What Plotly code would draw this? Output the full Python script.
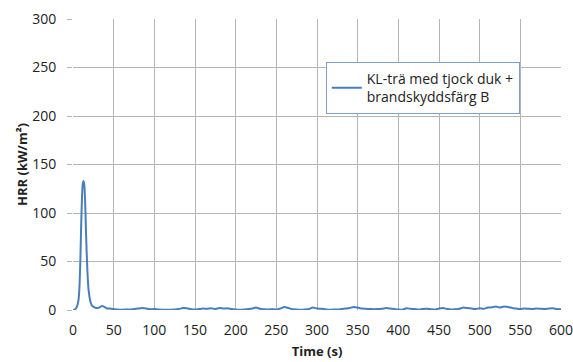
import plotly.graph_objects as go

# Heat release rate, cone calorimeter test
time_s = [0, 1, 2, 3, 4, 5, 6, 7, 8, 9, 10, 11, 12, 13, 14, 15, 16, 17, 18, 19,
          20, 21, 22, 23, 24, 25, 26, 27, 28, 29, 30, 32, 34, 36, 38, 40, 42, 45,
          50, 55, 60, 65, 70, 75, 80, 85, 90, 95, 100, 105, 110, 115, 120, 125,
          130, 135, 140, 145, 150, 155, 160, 165, 170, 175, 180, 185, 190, 195,
          200, 205, 210, 215, 220, 225, 230, 235, 240, 245, 250, 255, 260, 265,
          270, 275, 280, 285, 290, 295, 300, 305, 310, 315, 320, 325, 330, 335,
          340, 345, 350, 355, 360, 365, 370, 375, 380, 385, 390, 395, 400, 405,
          410, 415, 420, 425, 430, 435, 440, 445, 450, 455, 460, 465, 470, 475,
          480, 485, 490, 495, 500, 505, 510, 515, 520, 525, 530, 535, 540, 545,
          550, 555, 560, 565, 570, 575, 580, 585, 590, 595, 600]
hrr = [0, 0, 0.5, 1, 2, 4, 7, 12, 25, 50, 85, 115, 130, 133, 128, 110, 80, 55, 35, 22,
       15, 10, 7, 5, 4, 3.5, 3, 2.5, 2, 2, 2, 2.5, 3.5, 4, 3.5, 2.5, 1.5, 1.5,
       1, 0.5, 0.3, 0.5, 0.5, 1, 1.5, 2, 1.5, 0.8, 1, 0.5, 0.3, 0.2, 0.3, 0.5,
       1, 2, 1.8, 0.8, 0.5, 1, 1.5, 1.2, 1.8, 1, 2, 1.5, 1.8, 1, 0.5, 0.3, 0.5,
       1, 1.5, 2.5, 1.2, 0.8, 0.5, 0.8, 0.5, 1.5, 3.2, 2, 0.8, 0.5, 0.3, 0.5,
       1, 2.5, 1.5, 1.2, 0.8, 0.2, 0.5, 0.5, 1, 1.5, 2, 3.2, 2.5, 1.5, 1.2, 1,
       0.8, 1, 1.2, 2, 1.5, 1, 0.5, 0.3, 1.8, 1.2, 1, 0.5, 1, 1.2, 0.8, 0.5,
       1.5, 2, 1, 0.5, 0.8, 1.2, 2.5, 2, 1.5, 1, 1.8, 1.2, 2.5, 2.8, 3.5, 2.5,
       3.5, 3, 2, 1.5, 1, 1.5, 1.2, 1, 1.5, 1.2, 1, 1.5, 1.8, 1, 0.8, 1.5, 1.8]

series_name = "KL-trä med tjock duk +<br>brandskyddsfärg B"

x_ticks = list(range(0, 601, 50))
y_ticks = list(range(0, 301, 50))

FONT = "Open Sans, Liberation Sans, sans-serif"
GRID = "#b4b4b4"

fig = go.Figure()
fig.add_trace(go.Scatter(
    x=time_s, y=hrr, mode="lines", name=series_name,
    line=dict(color="#4a7ebb", width=2, shape="spline", smoothing=0.6),
))

fig.update_layout(
    width=573, height=362,
    margin=dict(l=73, r=12, t=19, b=52),
    paper_bgcolor="white", plot_bgcolor="white",
    font=dict(family=FONT, size=14, color="#222222"),
    showlegend=True,
    legend=dict(
        x=0.518, y=0.852, xanchor="left", yanchor="top",
        bgcolor="white", bordercolor="#7f9fc8", borderwidth=1,
        font=dict(family=FONT, size=14, color="#222222"),
        itemwidth=30, tracegroupgap=0,
    ),
    xaxis=dict(
        range=[0, 600], tickvals=x_ticks, showgrid=True, gridcolor=GRID,
        gridwidth=1, zeroline=False, showline=False, ticks="",
        automargin=False, ticklabelstandoff=10, ticklabeloverflow="allow",
        tickfont=dict(family=FONT, size=14),
        title=dict(text="<b>Time (s)</b>", standoff=8, font=dict(size=13)),
    ),
    yaxis=dict(
        range=[0, 300], tickvals=y_ticks, showgrid=True, gridcolor=GRID,
        gridwidth=1, zeroline=False, showline=False,
        ticks="outside", ticklen=5, tickcolor=GRID, tickwidth=1,
        automargin=False, ticklabelstandoff=8, ticklabeloverflow="allow",
        tickfont=dict(family=FONT, size=14),
        title=dict(text="<b>HRR (kW/m²)</b>", standoff=1, font=dict(size=13)),
    ),
)

fig.write_html("out.html")
